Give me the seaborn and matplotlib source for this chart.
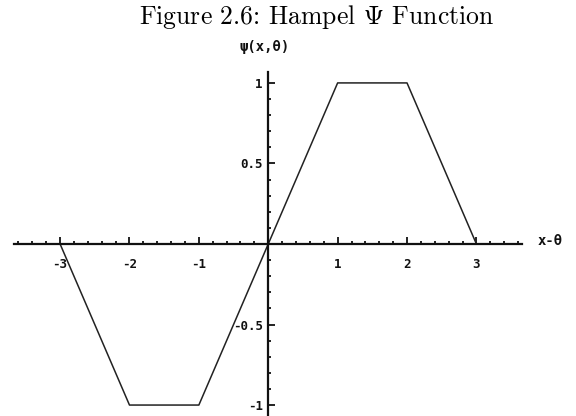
import numpy as np
import pandas as pd
import matplotlib
matplotlib.use("Agg")
import matplotlib.pyplot as plt
from matplotlib.ticker import MultipleLocator, FixedLocator
import seaborn as sns

# Hampel psi function breakpoints (a=1, b=2, c=3)
x_vals = [-3.0, -2.0, -1.0, 0.0, 1.0, 2.0, 3.0]
psi_vals = [0.0, -1.0, -1.0, 0.0, 1.0, 1.0, 0.0]
x_ticks = [-3, -2, -1, 1, 2, 3]
x_tick_labels = ["-3", "-2", "-1", "1", "2", "3"]
y_ticks = [-1, -0.5, 0.5, 1]
y_tick_labels = ["-1", "-0.5", "0.5", "1"]

sns.set_style("white")
plt.rcParams["mathtext.fontset"] = "cm"
plt.rcParams["axes.unicode_minus"] = False

df = pd.DataFrame({"x": x_vals, "psi": psi_vals})

fig = plt.figure(figsize=(5.76, 4.16), dpi=100)
ax = fig.add_axes([0.0236, 0.0, 0.883, 0.827])

sns.lineplot(data=df, x="x", y="psi", ax=ax, color="#222222", linewidth=1.1,
             sort=False, estimator=None)

ax.set_xlim(-3.67, 3.66)
ax.set_ylim(-1.068, 1.068)

for side in ("top", "right"):
    ax.spines[side].set_visible(False)
ax.spines["left"].set_position(("data", 0))
ax.spines["bottom"].set_position(("data", 0))
for side in ("left", "bottom"):
    ax.spines[side].set_linewidth(1.6)
    ax.spines[side].set_color("#111111")

ax.xaxis.set_major_locator(FixedLocator(x_ticks))
ax.xaxis.set_minor_locator(MultipleLocator(0.2))
ax.yaxis.set_major_locator(FixedLocator(y_ticks))
ax.yaxis.set_minor_locator(MultipleLocator(0.1))
ax.set_xticklabels(x_tick_labels)
ax.set_yticklabels(y_tick_labels)

mono = "DejaVu Sans Mono"
ax.tick_params(axis="both", which="both", bottom=True, left=True,
               direction="in", colors="#111111")
ax.tick_params(axis="x", which="major", length=5, width=1.3, pad=10,
               labelsize=9)
ax.tick_params(axis="x", which="minor", length=2.5, width=1.3)
ax.tick_params(axis="y", which="major", length=5, width=1.3, pad=4,
               labelsize=9)
ax.tick_params(axis="y", which="minor", length=2.5, width=1.3)
for lab in ax.get_xticklabels() + ax.get_yticklabels():
    lab.set_fontfamily(mono)
    lab.set_fontweight("bold")

ax.set_xlabel("")
ax.set_ylabel("")
ax.grid(False)

# axis captions in Mathematica style
fig.text(265 / 576, 1 - 47 / 416, "ψ(x,θ)", ha="center", va="center",
         fontsize=10, family=mono, fontweight="bold", color="#111111")
fig.text(538 / 576, 1 - 241 / 416, "x-θ", ha="left", va="center",
         fontsize=10, family=mono, fontweight="bold", color="#111111")

fig.text(317 / 576, 1 - 17 / 416, r"Figure 2.6: Hampel $\Psi$ Function",
         ha="center", va="center", fontsize=18.5, family="cmr10",
         color="black")

fig.savefig("out.png", dpi=100)
